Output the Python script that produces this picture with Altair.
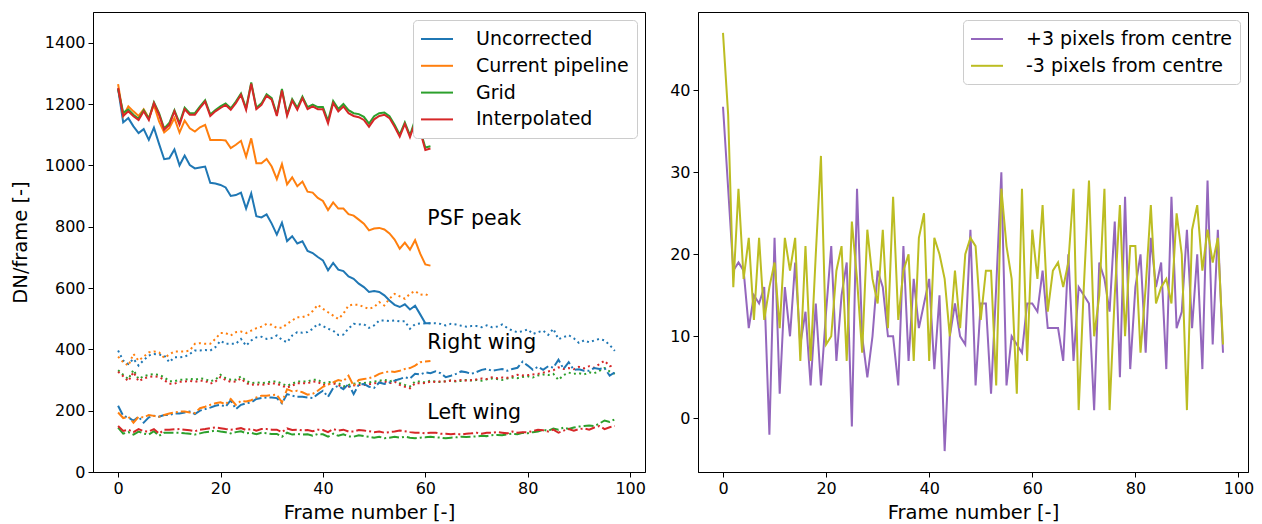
import altair as alt
import pandas as pd

FONT = "DejaVu Sans"

# ---------------- Left panel data ----------------
series_names = ["Uncorrected", "Current pipeline", "Grid", "Interpolated"]
series_colors = ["#1f77b4", "#ff7f0e", "#2ca02c", "#d62728"]

# PSF peak (solid), frames 0..61
psf_uncorrected = [1250,1140,1154,1127,1105,1118,1083,1123,1070,1020,
                   1023,1052,1000,1032,1001,990,993,996,943,941,
                   936,928,900,903,911,859,908,834,830,840,
                   810,774,813,753,769,745,752,721,714,701,
                   690,658,682,660,655,638,630,614,603,587,
                   590,587,576,559,545,538,547,530,542,514,
                   485,485]
psf_pipeline = [1265,1161,1192,1176,1161,1183,1154,1197,1143,1107,
                1121,1154,1107,1146,1121,1110,1124,1132,1083,1083,
                1083,1081,1056,1067,1080,1028,1088,1007,1007,1021,
                996,955,1004,938,961,932,947,914,911,894,
                884,854,879,859,859,841,836,823,810,788,
                794,796,791,778,758,728,748,725,756,712,
                677,673]
psf_grid = [1248,1172,1182,1165,1152,1180,1152,1206,1170,1120,
            1138,1180,1138,1188,1170,1170,1192,1212,1166,1180,
            1192,1202,1186,1208,1234,1186,1270,1188,1202,1232,
            1219,1166,1249,1166,1216,1188,1224,1190,1198,1190,
            1190,1145,1210,1184,1200,1180,1170,1167,1158,1136,
            1160,1170,1172,1160,1132,1100,1140,1098,1148,1115,
            1058,1062]
psf_interp = [1252,1161,1176,1160,1148,1176,1148,1203,1165,1116,
              1132,1176,1132,1183,1165,1165,1187,1208,1161,1176,
              1187,1197,1181,1203,1230,1181,1266,1183,1197,1227,
              1214,1161,1244,1161,1211,1181,1219,1183,1192,1183,
              1183,1137,1203,1176,1192,1170,1161,1157,1148,1126,
              1150,1161,1165,1154,1126,1094,1135,1092,1140,1110,
              1050,1055]

# Right wing (dotted)
rw_uncorrected = [396,363,352,369,347,365,380,385,383,380,
                  358,374,374,376,385,396,396,398,396,407,
                  428,418,418,418,434,412,429,439,441,434,
                  437,445,431,423,445,456,454,456,467,483,
                  476,467,461,447,448,468,483,481,482,470,
                  478,494,494,492,494,491,492,467,482,484,
                  485,485,485,483,478,483,481,477,474,476,
                  476,472,478,472,474,481,470,461,456,459,
                  465,450,456,461,447,467,433,440,446,436,
                  421,429,423,429,434,429,414,395]
rw_pipeline = [376,358,347,385,363,376,390,393,390,372,
               383,393,393,393,396,418,420,418,418,434,
               453,453,445,456,458,453,461,469,474,483,
               480,470,470,483,494,505,505,510,525,545,
               532,521,510,499,516,543,546,545,538,532,
               538,554,543,565,581,573,565,581,590,578,
               580,572]
rw_grid = [332,317,303,333,303,312,317,319,317,309,
           296,296,301,301,304,301,305,303,296,301,
           317,306,301,301,312,297,290,292,290,292,
           295,295,288,281,288,295,295,295,301,301,
           290,292,295,290,279,284,288,290,290,292,
           295,297,301,295,301,290,284,279,295,295,
           292,298,295,293,296,298,295,297,300,298,
           300,298,302,305,303,300,305,308,306,310,
           312,308,315,318,316,320,300,316,324,320,
           322,318,325,322,330,339,328,320]
rw_interp = [327,312,296,326,296,305,310,312,310,300,
             288,288,294,295,297,294,298,297,288,295,
             310,300,294,295,305,290,284,286,284,286,
             289,288,281,275,282,289,289,289,295,294,
             284,286,289,284,273,278,282,284,284,286,
             289,291,295,289,295,284,278,273,289,289,
             290,295,293,296,295,298,297,300,298,300,
             302,305,303,309,306,308,307,312,317,315,
             316,318,320,324,328,332,341,336,339,335,
             343,338,345,340,352,363,345,347]

# Left wing (dash-dot)
lw_uncorrected = [216,183,178,167,180,161,178,183,180,186,
                  186,191,191,194,197,189,200,205,210,216,
                  219,213,234,205,219,224,227,238,241,243,
                  243,241,224,254,249,245,245,243,241,254,
                  265,245,274,281,270,287,254,285,287,278,
                  274,292,287,292,298,303,309,305,320,318,
                  325,322,328,322,309,314,320,328,325,320,
                  326,333,336,330,333,336,330,336,340,360,
                  347,333,343,333,345,340,366,336,358,333,
                  335,330,330,339,336,339,314,325]
lw_pipeline = [194,176,180,161,180,178,186,183,180,186,
               191,194,197,197,194,192,208,213,219,224,
               227,221,238,219,232,230,234,243,249,249,
               251,252,227,270,263,265,260,252,255,265,
               278,285,292,300,296,314,281,300,303,306,
               311,320,325,328,326,330,336,339,347,358,
               360,362]
lw_grid = [145,125,130,122,132,125,122,133,118,128,
           128,128,128,126,125,122,126,130,132,135,
           132,130,126,130,133,126,128,123,128,126,
           124,124,115,128,122,124,122,123,118,124,
           123,115,125,118,123,116,115,120,117,115,
           112,115,110,112,115,112,115,112,110,112,
           113,115,113,112,110,112,113,115,114,115,
           116,118,117,120,121,120,123,125,123,128,
           126,130,132,138,134,142,138,145,140,145,
           148,150,152,150,158,168,163,172]
lw_interp = [150,134,138,130,140,133,132,140,125,138,
             138,139,140,138,136,133,138,140,143,145,
             143,140,138,140,143,137,140,135,140,140,
             138,138,130,142,137,138,136,137,133,138,
             137,130,140,135,138,132,132,137,135,133,
             130,132,128,130,132,135,133,130,128,128,
             126,128,128,125,125,123,125,122,125,126,
             128,125,128,128,130,128,126,132,128,130,
             130,133,138,136,132,138,128,135,140,135,
             140,142,138,145,150,140,146,150]

label_texts = ["PSF peak", "Right wing", "Left wing"]
label_x = [60.4, 60.4, 60.4]
label_y = [824, 422, 193]

# ---------------- Right panel data ----------------
pix_names = ["+3 pixels from centre", "-3 pixels from centre"]
pix_colors = ["#9467bd", "#bcbd22"]
plus3 = [38,28,18,19,18,11,15,14,16,-2,
         22,3,16,10,19,9,13,4,14,4,
         13,21,7,15,19,-1,28,10,5,10,
         18,16,10,10,4,21,7,17,11,14,
         17,6,15,-4,10,14,10,9,23,4,
         14,14,3,16,30,4,10,9,8,14,
         14,13,18,11,11,11,7,20,7,16,
         15,14,1,19,17,13,24,5,27,6,
         16,20,8,22,16,19,6,27,11,13,
         23,11,20,6,29,9,23,8]
minus3 = [47,37,16,28,17,22,12,22,12,16,
          19,11,22,18,22,7,21,7,20,32,
          9,10,18,21,7,24,17,8,23,17,
          14,23,11,27,12,18,20,7,22,25,
          7,22,20,17,10,18,11,20,22,21,
          12,18,18,4,28,21,17,3,28,7,
          23,17,26,13,18,19,16,19,28,1,
          16,29,10,15,28,1,15,26,10,21,
          21,8,16,26,14,16,17,14,25,20,
          1,23,26,18,23,19,22,9]


def long_df(pairs):
    rows = []
    for name, vals in pairs:
        for i, v in enumerate(vals):
            rows.append({"frame": i, "value": v, "series": name})
    return pd.DataFrame(rows)


psf_df = long_df(zip(series_names, [psf_uncorrected, psf_pipeline, psf_grid, psf_interp]))
rw_df = long_df(zip(series_names, [rw_uncorrected, rw_pipeline, rw_grid, rw_interp]))
lw_df = long_df(zip(series_names, [lw_uncorrected, lw_pipeline, lw_grid, lw_interp]))
lab_df = pd.DataFrame({"frame": label_x, "value": label_y, "text": label_texts})
pix_df = long_df(zip(pix_names, [plus3, minus3]))


def make_legend():
    return alt.Legend(title=None, orient="top-right", offset=8,
                      symbolType="M-1.1,0L2.1,0", symbolSize=400, symbolStrokeWidth=2,
                      labelFontSize=19, labelFont=FONT, labelOffset=33, labelLimit=0,
                      rowPadding=5.8, padding=8, strokeColor="#cccccc",
                      fillColor="white", cornerRadius=4, labelColor="black")


xl = alt.X("frame:Q", scale=alt.Scale(domain=[-4.9, 102.9], nice=False, zero=False),
           axis=alt.Axis(values=[0, 20, 40, 60, 80, 100], title="Frame number [-]"))
yl = alt.Y("value:Q", scale=alt.Scale(domain=[0, 1500], nice=False),
           axis=alt.Axis(values=[0, 200, 400, 600, 800, 1000, 1200, 1400], format="d",
                         title="DN/frame [-]"))
color_l = alt.Color("series:N", scale=alt.Scale(domain=series_names, range=series_colors),
                    legend=make_legend())
color_l_nl = alt.Color("series:N", scale=alt.Scale(domain=series_names, range=series_colors), legend=None)

psf_layer = alt.Chart(psf_df).mark_line(strokeWidth=2).encode(x=xl, y=yl, color=color_l)
rw_layer = alt.Chart(rw_df).mark_line(strokeWidth=2, strokeDash=[2, 3.3]).encode(x=xl, y=yl, color=color_l_nl)
lw_layer = alt.Chart(lw_df).mark_line(strokeWidth=2, strokeDash=[10, 3, 2, 3]).encode(x=xl, y=yl, color=color_l_nl)
txt_layer = alt.Chart(lab_df).mark_text(align="left", baseline="middle", fontSize=20.5,
                                        font=FONT, color="black").encode(x=xl, y=yl, text="text:N")

left = alt.layer(psf_layer, rw_layer, lw_layer, txt_layer).properties(width=552, height=460)

xr = alt.X("frame:Q", scale=alt.Scale(domain=[-4.85, 101.85], nice=False, zero=False),
           axis=alt.Axis(values=[0, 20, 40, 60, 80, 100], title="Frame number [-]"))
yr = alt.Y("value:Q", scale=alt.Scale(domain=[-6.55, 49.55], nice=False, zero=False),
           axis=alt.Axis(values=[0, 10, 20, 30, 40], title=None))
color_r = alt.Color("series:N", scale=alt.Scale(domain=pix_names, range=pix_colors),
                    legend=make_legend())
right = alt.Chart(pix_df).mark_line(strokeWidth=2).encode(x=xr, y=yr, color=color_r).properties(width=550, height=460)

chart = alt.hconcat(left, right, spacing=23).resolve_scale(color="independent").resolve_legend(color="independent").properties(
    padding={"left": 9, "top": 11, "right": 5, "bottom": 2}
).configure_view(stroke="black", strokeWidth=1).configure_axis(
    domainColor="black", tickColor="black", labelColor="black", titleColor="black",
    labelFont=FONT, titleFont=FONT, labelFontSize=16, titleFontSize=19.5,
    titleFontWeight="normal", tickSize=5, labelPadding=3, grid=False, domainWidth=1
).configure_axisX(titlePadding=7).configure_axisY(titlePadding=14)

chart.save("out.html", embed_options={"renderer": "svg", "actions": False})
